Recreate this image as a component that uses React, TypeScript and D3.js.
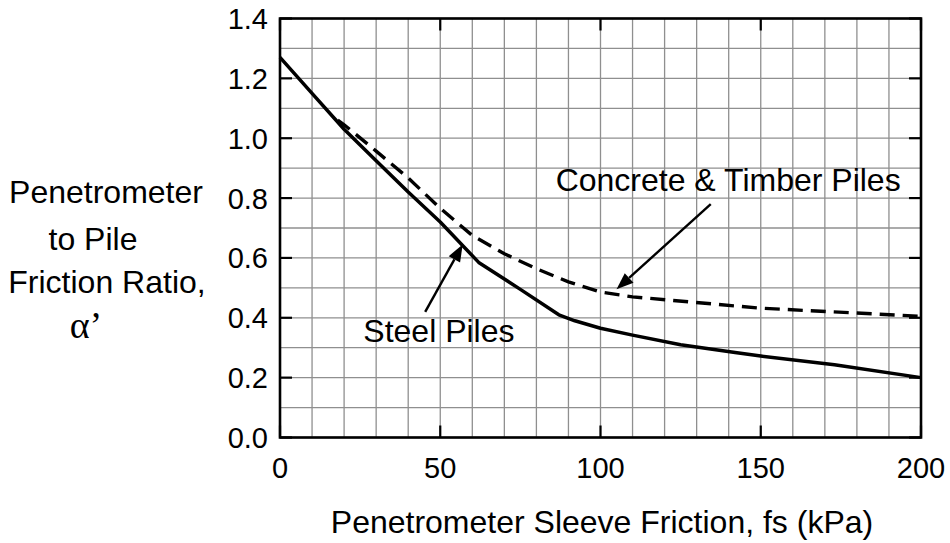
import React from "react";
import * as d3 from "d3";

const steelX = [0, 10, 20, 30, 40, 50, 62, 75, 87, 92, 100, 110, 125, 142, 150, 173, 200];
const steelY = [1.27, 1.15, 1.03, 0.925, 0.82, 0.72, 0.585, 0.495, 0.41, 0.39, 0.365, 0.342, 0.31, 0.284, 0.272, 0.243, 0.2];
const concreteX = [18, 20, 30, 40, 50, 60, 70, 80, 90, 100, 110, 150, 200];
const concreteY = [1.06, 1.045, 0.957, 0.867, 0.766, 0.675, 0.614, 0.564, 0.52, 0.486, 0.47, 0.432, 0.405];
const xTicks = [0, 50, 100, 150, 200];
const yTicks = [0.0, 0.2, 0.4, 0.6, 0.8, 1.0, 1.2, 1.4];
const xGrid = d3.range(0, 201, 10);
const yGrid = d3.range(0, 1.41, 0.1);
const yTitleLines = ["Penetrometer", "to Pile", "Friction Ratio,", "\u03b1\u2019"];
const xTitle = "Penetrometer Sleeve Friction, fs (kPa)";
const labelConcrete = "Concrete & Timber Piles";
const labelSteel = "Steel Piles";

const W = 950, H = 543;
const L = 280, R = 921, T = 18.5, B = 437.5;

export default function App() {
  const x = d3.scaleLinear().domain([0, 200]).range([L, R]);
  const y = d3.scaleLinear().domain([0, 1.4]).range([B, T]);
  const line = d3.line<[number, number]>().x(d => x(d[0])).y(d => y(d[1]));
  const steel: [number, number][] = steelX.map((v, i) => [v, steelY[i]]);
  const concrete: [number, number][] = concreteX.map((v, i) => [v, concreteY[i]]);
  const font = "'Liberation Sans', Arial, Helvetica, sans-serif";

  const arrow = (x1: number, y1: number, x2: number, y2: number) => {
    const px1 = x(x1), py1 = y(y1), px2 = x(x2), py2 = y(y2);
    const ang = Math.atan2(py2 - py1, px2 - px1);
    const len = 17, hw = 6.5;
    const bx = px2 - len * Math.cos(ang), by = py2 - len * Math.sin(ang);
    const nx = -Math.sin(ang), ny = Math.cos(ang);
    const pts = `${px2},${py2} ${bx + nx * hw},${by + ny * hw} ${bx - nx * hw},${by - ny * hw}`;
    return (
      <g>
        <line x1={px1} y1={py1} x2={bx} y2={by} stroke="#000" strokeWidth={2.4} />
        <polygon points={pts} fill="#000" />
      </g>
    );
  };

  return (
    <svg width={W} height={H} style={{ position: "absolute", left: 0, top: 0, background: "#fff" }} fontFamily={font}>
      <rect x={0} y={0} width={W} height={H} fill="#fff" />
      {xGrid.map(v => (
        <line key={"gx" + v} x1={x(v)} x2={x(v)} y1={T} y2={B} stroke="#8f8f8f" strokeWidth={1.3} />
      ))}
      {yGrid.map(v => (
        <line key={"gy" + v} x1={L} x2={R} y1={y(v)} y2={y(v)} stroke="#8f8f8f" strokeWidth={1.3} />
      ))}
      {yTicks.map(v => (
        <g key={"yt" + v}>
          <line x1={L} x2={L + 12} y1={y(v)} y2={y(v)} stroke="#000" strokeWidth={2.2} />
          <line x1={R - 12} x2={R} y1={y(v)} y2={y(v)} stroke="#000" strokeWidth={2.2} />
          <text x={268} y={y(v)} dy="0.36em" textAnchor="end" fontSize={29}>{v.toFixed(1)}</text>
        </g>
      ))}
      {xTicks.map(v => (
        <g key={"xt" + v}>
          <line x1={x(v)} x2={x(v)} y1={B} y2={B - 12} stroke="#000" strokeWidth={2.2} />
          <line x1={x(v)} x2={x(v)} y1={T} y2={T + 12} stroke="#000" strokeWidth={2.2} />
          <text x={x(v)} y={478} textAnchor="middle" fontSize={29}>{v}</text>
        </g>
      ))}
      <rect x={L} y={T} width={R - L} height={B - T} fill="none" stroke="#000" strokeWidth={2.6} />
      <path d={line(concrete) || ""} fill="none" stroke="#000" strokeWidth={3.4} strokeDasharray="15,8" />
      <path d={line(steel) || ""} fill="none" stroke="#000" strokeWidth={3.5} strokeLinejoin="round" />
      {arrow(45.3, 0.42, 57, 0.645)}
      {arrow(134.4, 0.78, 105, 0.495)}
      <text x={x(86)} y={y(0.823)} fontSize={32}>{labelConcrete}</text>
      <text x={x(26)} y={y(0.318)} fontSize={32}>{labelSteel}</text>
      <text x={602} y={533} textAnchor="middle" fontSize={32}>{xTitle}</text>
      <text x={106} y={203} textAnchor="middle" fontSize={32}>{yTitleLines[0]}</text>
      <text x={93} y={250} textAnchor="middle" fontSize={32}>{yTitleLines[1]}</text>
      <text x={107} y={293} textAnchor="middle" fontSize={32}>{yTitleLines[2]}</text>
      <text x={86} y={338} textAnchor="middle" fontSize={38} fontFamily="'Liberation Serif', 'Times New Roman', serif">{yTitleLines[3]}</text>
    </svg>
  );
}
